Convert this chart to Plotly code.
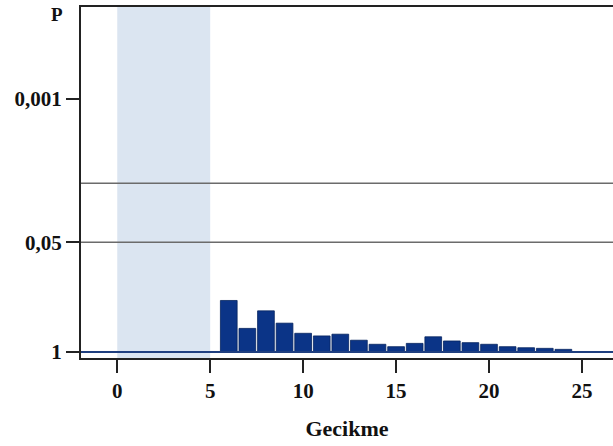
import numpy as np
import plotly.graph_objects as go

lags = list(range(6, 25))
p_values = [0.245, 0.525, 0.325, 0.455, 0.60, 0.645, 0.615, 0.725, 0.81, 0.865, 0.79, 0.66, 0.74, 0.775, 0.81, 0.865, 0.89, 0.905, 0.93]
y_tick_p = [1, 0.05, 0.001]
y_tick_text = ["1", "0,05", "0,001"]
ref_p = [0.05, 0.01]
shade_range = [0, 5]
x_ticks = [0, 5, 10, 15, 20, 25]

neglog = [-np.log10(p) for p in p_values]
tickvals = [-np.log10(p) for p in y_tick_p]

FAM = "Liberation Serif"

fig = go.Figure()
fig.add_trace(go.Bar(
    x=lags, y=neglog, width=0.9,
    marker=dict(color="#0b3487", line=dict(color="#062560", width=0.8)),
    showlegend=False, hoverinfo="skip",
))

shapes = [
    dict(type="rect", xref="x", yref="paper", x0=shade_range[0], x1=shade_range[1], y0=0, y1=1,
         fillcolor="#dbe5f1", line=dict(width=0), layer="below"),
    dict(type="line", xref="paper", yref="y", x0=0, x1=1, y0=0, y1=0,
         line=dict(color="#1f3f80", width=2), layer="above"),
]
for p in ref_p:
    v = -np.log10(p)
    shapes.append(dict(type="line", xref="paper", yref="y", x0=0, x1=1, y0=v, y1=v,
                       line=dict(color="#6b6b6b", width=1.6), layer="below"))

fig.update_layout(
    width=613, height=446,
    margin=dict(l=81, r=0, t=7, b=88),
    plot_bgcolor="white", paper_bgcolor="white",
    shapes=shapes,
    font=dict(family=FAM, size=21, color="#111"),
    xaxis=dict(
        range=[-1.95, 26.67], tickvals=x_ticks, ticks="outside", ticklen=13, tickwidth=2,
        tickcolor="#222", showline=True, linecolor="#222", linewidth=2, mirror=True,
        showgrid=False, zeroline=False,
        tickfont=dict(family=FAM, size=21, color="#111", weight="bold"),
        title=dict(text="<b>Gecikme</b>", font=dict(family=FAM, size=22), standoff=18),
    ),
    yaxis=dict(
        range=[-0.071, 4.09], tickvals=tickvals, ticktext=y_tick_text, ticks="outside",
        ticklen=13, tickwidth=2, tickcolor="#222", showline=True, linecolor="#222", linewidth=2,
        showgrid=False, zeroline=False,
        tickfont=dict(family=FAM, size=21, color="#111", weight="bold"),
    ),
    annotations=[dict(text="<b>P</b>", xref="paper", yref="paper", x=-0.045, y=0.978,
                      xanchor="center", yanchor="middle", showarrow=False,
                      font=dict(family=FAM, size=19, color="#111"))],
    bargap=0.1,
)

fig.write_html("out.html")
